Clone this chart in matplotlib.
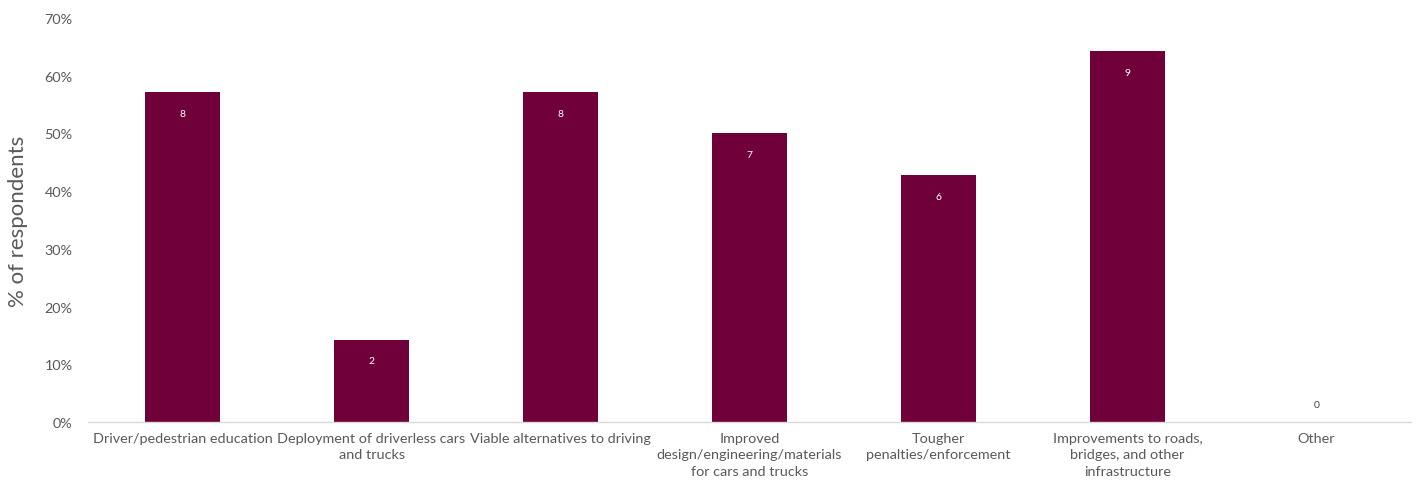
import matplotlib
matplotlib.use("Agg")
import matplotlib.pyplot as plt
from matplotlib.ticker import PercentFormatter

categories = [
    "Driver/pedestrian education",
    "Deployment of driverless cars\nand trucks",
    "Viable alternatives to driving",
    "Improved\ndesign/engineering/materials\nfor cars and trucks",
    "Tougher\npenalties/enforcement",
    "Improvements to roads,\nbridges, and other\ninfrastructure",
    "Other",
]
counts = [8, 2, 8, 7, 6, 9, 0]
total_respondents = 14
percents = [c / total_respondents * 100 for c in counts]

plt.rcParams['font.family'] = ['Lato', 'DejaVu Sans']
fig = plt.figure(figsize=(14.17, 4.85), dpi=100)
ax = fig.add_axes([0.0621, 0.1278, 0.9337, 0.833])

x = list(range(len(categories)))
bars = ax.bar(x, percents, width=0.40, color="#70003A")
for xi, p, c in zip(x, percents, counts):
    if p > 3:
        ax.text(xi, p - 3.7, str(c), ha="center", va="center", color="white", fontsize=7.5)
    else:
        ax.text(xi, p + 3.0, str(c), ha="center", va="center", color="#404040", fontsize=7.5)

ax.set_xlim(-0.5, len(categories) - 0.5)
ax.set_ylim(0, 70)
ax.set_yticks(range(0, 71, 10))
ax.yaxis.set_major_formatter(PercentFormatter(decimals=0))
ax.set_xticks(x)
ax.set_xticklabels(categories, fontsize=10.4, color="#595959", linespacing=1.45)
ax.tick_params(axis="y", labelsize=10.4, labelcolor="#595959", length=0, pad=11)
ax.tick_params(axis="x", length=0, pad=7)
for s in ["top", "right", "left"]:
    ax.spines[s].set_visible(False)
ax.spines["bottom"].set_color("#D9D9D9")
ax.spines["bottom"].set_linewidth(1.0)
ax.set_ylabel("% of respondents", fontsize=16, color="#595959", labelpad=12)

fig.savefig("out.png", dpi=100)
